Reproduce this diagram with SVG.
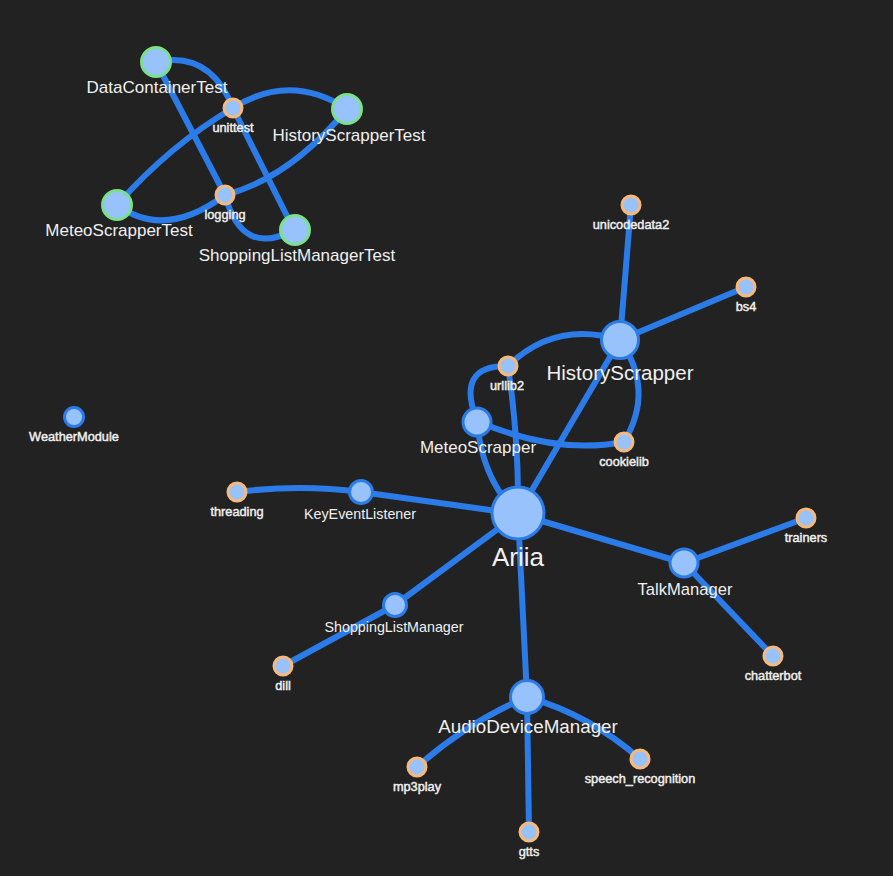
<svg xmlns="http://www.w3.org/2000/svg" width="893" height="876" viewBox="0 0 893 876">
<style>
.e{fill:none;stroke:#2b7ce9;stroke-width:6;stroke-linecap:round}
.n{fill:#97c2fc;stroke:#2b7ce9;stroke-width:3}
.o{fill:#97c2fc;stroke:#f7b97b;stroke-width:3}
.g{fill:#97c2fc;stroke:#7be088;stroke-width:3}
text{font-family:"Liberation Sans",Arial,sans-serif;fill:#f0f0f0;text-anchor:middle}
.s{font-size:12.75px;stroke:#f0f0f0;stroke-width:0.45}
</style>
<rect width="893" height="876" fill="#222222"/>
<g id="edges">
<path class="e" d="M156,62 Q210,50 233,108"/>
<path class="e" d="M156,62 L225,195"/>
<path class="e" d="M233,108 L294,230"/>
<path class="e" d="M225,195 Q242,258 294,230"/>
<path class="e" d="M117,205 Q170,145 233,108"/>
<path class="e" d="M233,108 Q290,72 347,109"/>
<path class="e" d="M117,205 Q165,240 225,195"/>
<path class="e" d="M225,195 Q290,178 347,109"/>
<path class="e" d="M518,514 L620,340"/>
<path class="e" d="M620,340 L631,205"/>
<path class="e" d="M620,340 L746,287"/>
<path class="e" d="M620,340 Q555,320 508,366"/>
<path class="e" d="M620,340 Q655,390 624,442"/>
<path class="e" d="M477,421 Q455,365 508,366"/>
<path class="e" d="M477,421 Q555,455 624,442"/>
<path class="e" d="M518,514 Q519,440 508,366"/>
<path class="e" d="M477,421 Q482,480 518,514"/>
<path class="e" d="M361,492 Q300,484 237,492"/>
<path class="e" d="M361,492 L518,514"/>
<path class="e" d="M518,514 L395,605"/>
<path class="e" d="M395,605 L283,666"/>
<path class="e" d="M518,514 L684,563"/>
<path class="e" d="M684,563 L806,518"/>
<path class="e" d="M684,563 L773,656"/>
<path class="e" d="M518,514 L527,697"/>
<path class="e" d="M527,697 Q468,722 417,767"/>
<path class="e" d="M527,697 L529,832"/>
<path class="e" d="M527,697 Q590,715 640,759"/>
</g>
<g id="DataContainerTest"><circle class="g" cx="156" cy="62" r="14.5"/><text x="157" y="93" font-size="17">DataContainerTest</text></g>
<g id="unittest"><circle class="o" cx="233" cy="108" r="9"/><text class="s" x="233" y="132">unittest</text></g>
<g id="HistoryScrapperTest"><circle class="g" cx="347" cy="109" r="14.5"/><text x="349" y="141" font-size="17">HistoryScrapperTest</text></g>
<g id="MeteoScrapperTest"><circle class="g" cx="117" cy="205" r="14.5"/><text x="119" y="236" font-size="17">MeteoScrapperTest</text></g>
<g id="logging"><circle class="o" cx="225" cy="195" r="9"/><text class="s" x="225" y="219">logging</text></g>
<g id="ShoppingListManagerTest"><circle class="g" cx="295" cy="230" r="14.5"/><text x="297" y="261" font-size="17">ShoppingListManagerTest</text></g>
<g id="HistoryScrapper"><circle class="n" cx="620" cy="340" r="18.5"/><text x="620" y="380" font-size="20.5">HistoryScrapper</text></g>
<g id="unicodedata2"><circle class="o" cx="631" cy="205" r="9"/><text class="s" x="631" y="229">unicodedata2</text></g>
<g id="bs4"><circle class="o" cx="746" cy="287" r="9"/><text class="s" x="746" y="311">bs4</text></g>
<g id="urllib2"><circle class="o" cx="508" cy="366" r="9"/><text class="s" x="507" y="390">urllib2</text></g>
<g id="cookielib"><circle class="o" cx="624" cy="442" r="9"/><text class="s" x="624" y="466">cookielib</text></g>
<g id="MeteoScrapper"><circle class="n" cx="477" cy="422" r="14"/><text x="478" y="453" font-size="17">MeteoScrapper</text></g>
<g id="Ariia"><circle class="n" cx="518" cy="513" r="26"/><text x="518" y="566" font-size="26">Ariia</text></g>
<g id="KeyEventListener"><circle class="n" cx="361" cy="492" r="11.5"/><text x="360" y="519" font-size="14.3">KeyEventListener</text></g>
<g id="threading"><circle class="o" cx="237" cy="492" r="9"/><text class="s" x="237" y="516">threading</text></g>
<g id="ShoppingListManager"><circle class="n" cx="395" cy="605" r="11.5"/><text x="394" y="632" font-size="14.3">ShoppingListManager</text></g>
<g id="dill"><circle class="o" cx="283" cy="666" r="9"/><text class="s" x="283" y="690">dill</text></g>
<g id="TalkManager"><circle class="n" cx="684" cy="563" r="14"/><text x="685" y="595" font-size="16.6">TalkManager</text></g>
<g id="trainers"><circle class="o" cx="806" cy="518" r="9"/><text class="s" x="806" y="542">trainers</text></g>
<g id="chatterbot"><circle class="o" cx="773" cy="656" r="9"/><text class="s" x="773" y="680">chatterbot</text></g>
<g id="AudioDeviceManager"><circle class="n" cx="527" cy="697" r="16.5"/><text x="528" y="733" font-size="18.8">AudioDeviceManager</text></g>
<g id="mp3play"><circle class="o" cx="417" cy="767" r="9"/><text class="s" x="417" y="791">mp3play</text></g>
<g id="gtts"><circle class="o" cx="529" cy="832" r="9"/><text class="s" x="529" y="856">gtts</text></g>
<g id="speech_recognition"><circle class="o" cx="640" cy="759" r="9"/><text class="s" x="640" y="783">speech_recognition</text></g>
<g id="WeatherModule"><circle class="n" cx="74" cy="417" r="9.5"/><text class="s" x="74" y="441">WeatherModule</text></g>
</svg>
